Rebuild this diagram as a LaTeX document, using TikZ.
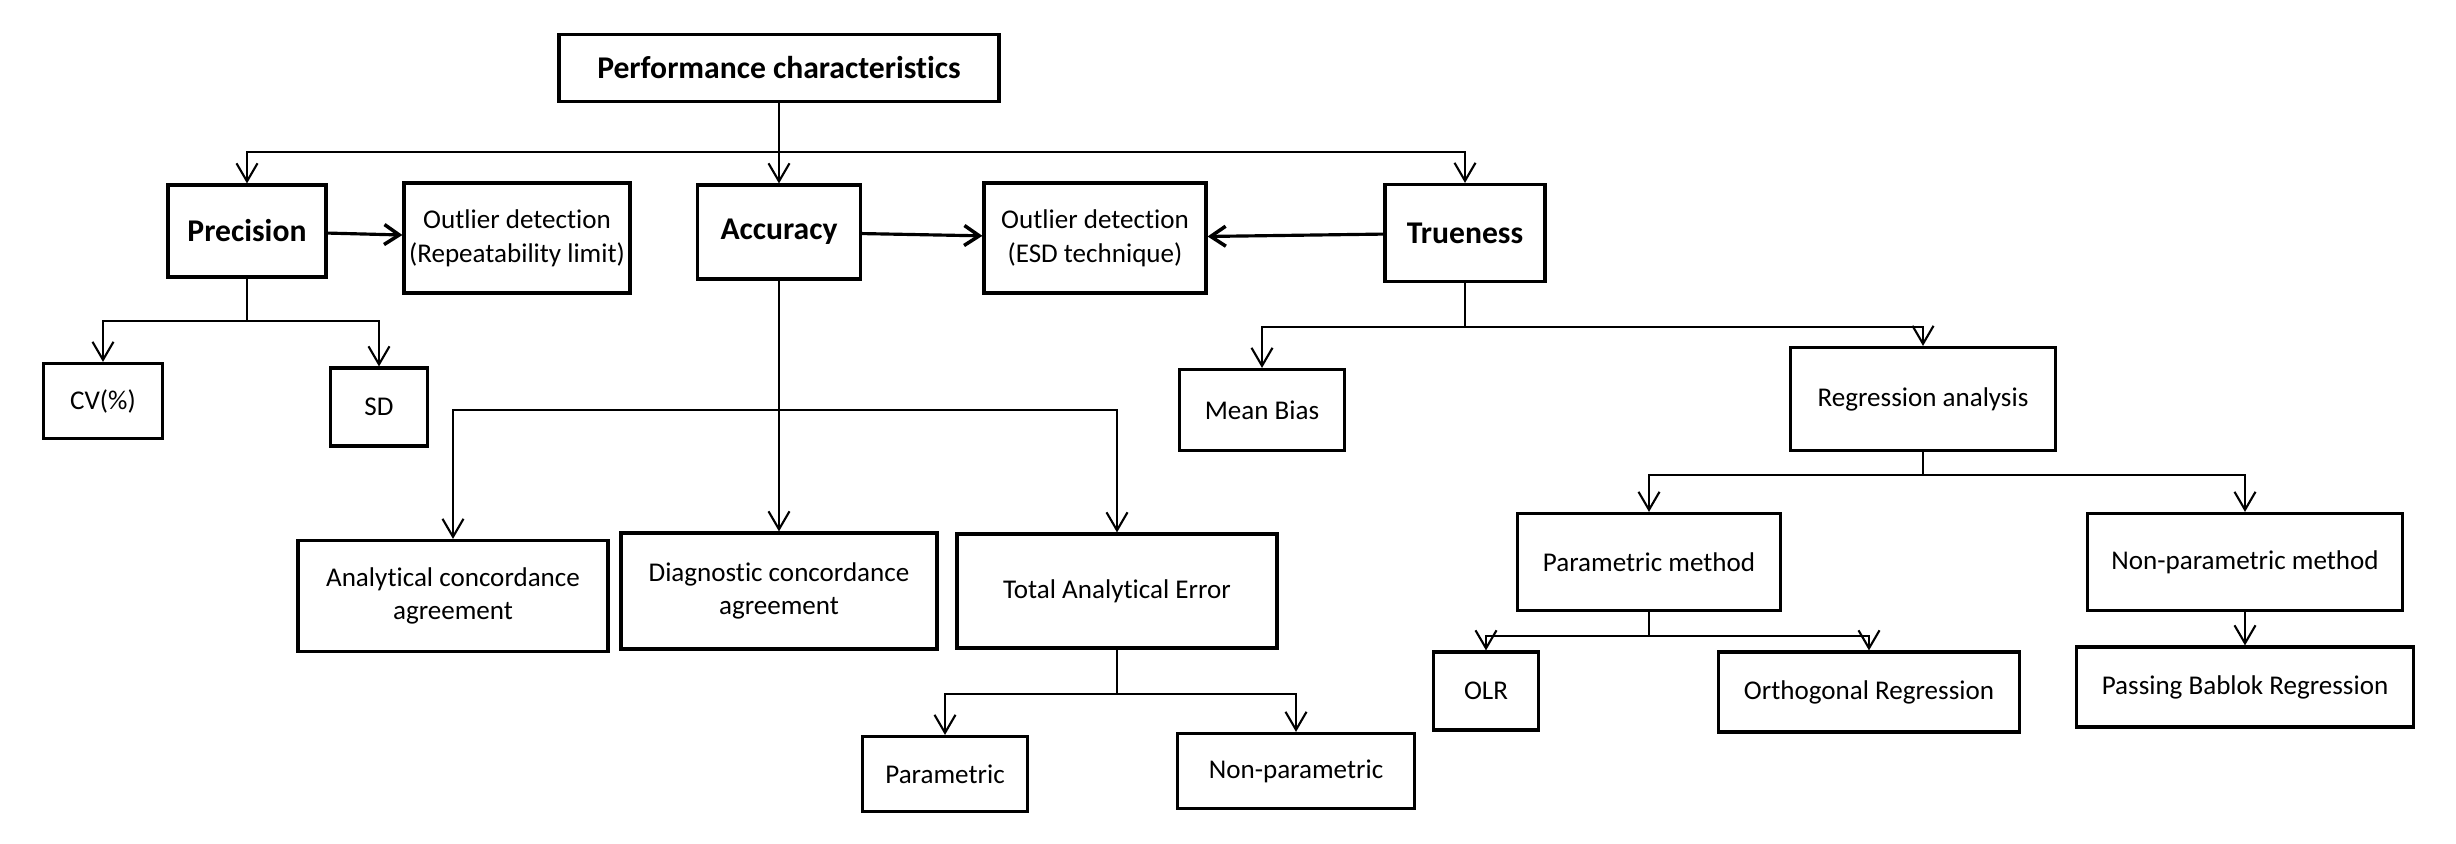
\documentclass[tikz,border=0pt]{standalone}
\usepackage{fontspec}
\setmainfont{Carlito}[Ligatures={NoCommon}]
\usetikzlibrary{positioning, arrows.meta}

\begin{document}
\begin{tikzpicture}[
    box/.style={draw, line width=0.9pt, inner sep=0pt, align=center,
        font=\fontsize{7.7}{9.6}\selectfont},
    head/.style={box, font=\fontsize{9}{11}\selectfont\bfseries},
    conn/.style={line width=0.75pt, -{Straight Barb[length=1.8mm, width=2.1mm, line width=0.6pt]}},
    side/.style={line width=0.9pt, -{Straight Barb[length=1.5mm, width=2mm, line width=1pt]}}]
    \useasboundingbox (0,0) rectangle (24.56,-8.44);

    % top level
    \node[head, minimum width=4.40cm, minimum height=0.67cm] (perf) at (7.79,-0.68) {Performance characteristics};
    \node[head, minimum width=1.58cm, minimum height=0.92cm] (prec) at (2.47,-2.31) {Precision};
    \node[head, minimum width=1.63cm, minimum height=0.94cm] (acc) at (7.79,-2.32) {Accuracy};
    \node[head, minimum width=1.60cm, minimum height=0.97cm] (true) at (14.65,-2.33) {Trueness};
    \node[box, minimum width=2.26cm, minimum height=1.10cm] (outrep) at (5.17,-2.38) {Outlier detection\\(Repeatability limit)};
    \node[box, minimum width=2.22cm, minimum height=1.10cm] (outesd) at (10.95,-2.38) {Outlier detection\\(ESD technique)};

    % precision branch
    \node[box, minimum width=1.19cm, minimum height=0.75cm] (cv) at (1.03,-4.01) {CV(\%)};
    \node[box, minimum width=0.97cm, minimum height=0.78cm] (sd) at (3.79,-4.07) {SD};

    % accuracy branch
    \node[box, minimum width=3.10cm, minimum height=1.11cm] (anal) at (4.53,-5.96) {Analytical concordance\\agreement};
    \node[box, minimum width=3.16cm, minimum height=1.16cm] (diag) at (7.79,-5.91) {Diagnostic concordance\\agreement};
    \node[box, minimum width=3.20cm, minimum height=1.14cm] (tae) at (11.17,-5.91) {Total Analytical Error};
    \node[box, minimum width=1.65cm, minimum height=0.75cm] (par) at (9.45,-7.74) {Parametric};
    \node[box, minimum width=2.37cm, minimum height=0.75cm] (npar) at (12.96,-7.71) {Non-parametric};

    % trueness branch
    \node[box, minimum width=1.65cm, minimum height=0.81cm] (bias) at (12.62,-4.10) {Mean Bias};
    \node[box, minimum width=2.65cm, minimum height=1.03cm] (reg) at (19.23,-3.99) {Regression analysis};
    \node[box, minimum width=2.63cm, minimum height=0.97cm] (pm) at (16.49,-5.62) {Parametric method};
    \node[box, minimum width=3.15cm, minimum height=0.97cm] (npm) at (22.45,-5.62) {Non-parametric method};
    \node[box, minimum width=1.05cm, minimum height=0.78cm] (olr) at (14.86,-6.91) {OLR};
    \node[box, minimum width=3.01cm, minimum height=0.80cm] (orth) at (18.69,-6.92) {Orthogonal Regression};
    \node[box, minimum width=3.37cm, minimum height=0.80cm] (pbr) at (22.45,-6.87) {Passing Bablok Regression};

    % bus levels
    \coordinate (b0) at (0,-1.52);
    \coordinate (b1) at (0,-3.21);
    \coordinate (b2) at (0,-4.10);
    \coordinate (b3) at (0,-6.94);
    \coordinate (b4) at (0,-3.27);
    \coordinate (b5) at (0,-4.75);
    \coordinate (b6) at (0,-6.36);

    \draw[conn] (perf.south) -- (perf.south |- b0) -| (prec.north);
    \draw[conn] (perf.south) -- (acc.north);
    \draw[conn] (perf.south |- b0) -| (true.north);

    \draw[side] (prec) -- (outrep);
    \draw[side] (acc) -- (outesd);
    \draw[side] (true) -- (outesd);

    \draw[conn] (prec.south) -- (prec.south |- b1) -| (cv.north);
    \draw[conn] (prec.south |- b1) -| (sd.north);

    \draw[conn] (acc.south) -- (acc.south |- b2) -| (anal.north);
    \draw[conn] (acc.south) -- (diag.north);
    \draw[conn] (acc.south |- b2) -| (tae.north);

    \draw[conn] (tae.south) -- (tae.south |- b3) -| (par.north);
    \draw[conn] (tae.south |- b3) -| (npar.north);

    \draw[conn] (true.south) -- (true.south |- b4) -| (bias.north);
    \draw[conn] (true.south |- b4) -| (reg.north);

    \draw[conn] (reg.south) -- (reg.south |- b5) -| (pm.north);
    \draw[conn] (reg.south |- b5) -| (npm.north);

    \draw[conn] (pm.south) -- (pm.south |- b6) -| (olr.north);
    \draw[conn] (pm.south |- b6) -| (orth.north);

    \draw[conn] (npm) -- (pbr);
\end{tikzpicture}
\end{document}
